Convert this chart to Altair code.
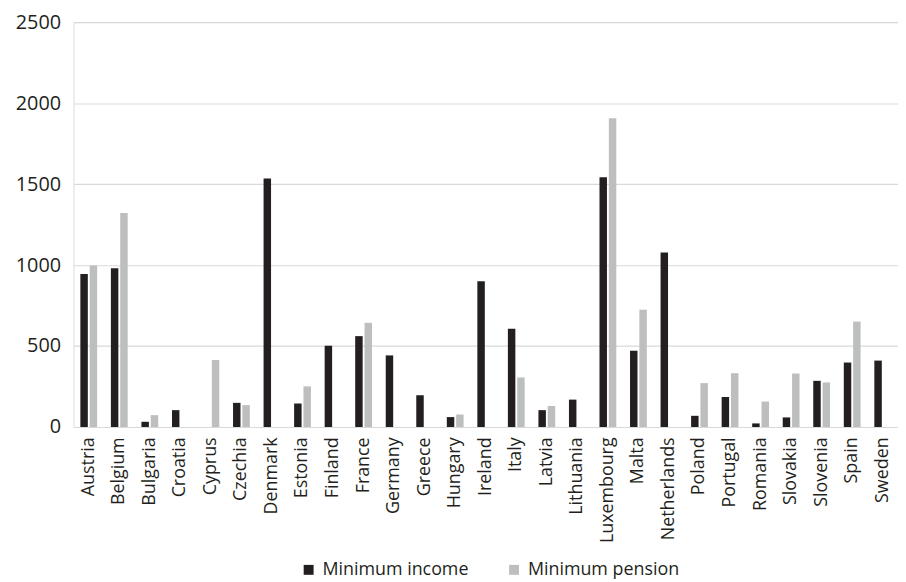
import altair as alt
import pandas as pd

countries = ["Austria", "Belgium", "Bulgaria", "Croatia", "Cyprus", "Czechia", "Denmark",
             "Estonia", "Finland", "France", "Germany", "Greece", "Hungary", "Ireland",
             "Italy", "Latvia", "Lithuania", "Luxembourg", "Malta", "Netherlands", "Poland",
             "Portugal", "Romania", "Slovakia", "Slovenia", "Spain", "Sweden"]
min_income = [944, 981, 32, 104, None, 149, 1534, 145, 502, 561, 442, 196, 61, 900,
              606, 104, 169, 1542, 471, 1077, 69, 185, 22, 59, 285, 398, 410]
min_pension = [997, 1322, 73, None, 414, 135, None, 251, None, 643, None, None, 77, None,
               306, 130, None, 1907, 724, None, 271, 332, 157, 330, 275, 651, None]
series = ["Minimum income", "Minimum pension"]
colors = ["#231f20", "#bcbec0"]
y_ticks = [0, 500, 1000, 1500, 2000, 2500]

rows = []
for c, a, b in zip(countries, min_income, min_pension):
    if a is not None:
        rows.append({"country": c, "series": series[0], "value": a})
    if b is not None:
        rows.append({"country": c, "series": series[1], "value": b})
df = pd.DataFrame(rows)

font = "Open Sans"
text_color = "#231f20"

chart = alt.Chart(df).mark_bar().encode(
    x=alt.X("country:N", sort=countries, title=None,
            scale=alt.Scale(paddingInner=0.45, paddingOuter=0.225),
            axis=alt.Axis(labelAngle=-90, labelAlign="right", labelBaseline="middle",
                          labelPadding=10, ticks=False, domain=False, grid=False,
                          labelFontSize=18, labelColor=text_color, labelFont=font)),
    xOffset=alt.XOffset("series:N", sort=series,
                        scale=alt.Scale(paddingInner=0.2, paddingOuter=0)),
    y=alt.Y("value:Q", title=None,
            scale=alt.Scale(domain=[0, 2500], nice=False),
            axis=alt.Axis(values=y_ticks, format=".0f", ticks=False, domain=False,
                          gridColor="#d9d9d9", gridWidth=1.2, labelPadding=13,
                          labelFontSize=20, labelColor=text_color, labelFont=font)),
    color=alt.Color("series:N", sort=series,
                    scale=alt.Scale(domain=series, range=colors),
                    legend=alt.Legend(title=None, orient="none", legendX=228, legendY=543,
                                      direction="horizontal",
                                      symbolType="square", symbolSize=100,
                                      symbolStrokeWidth=0, labelFontSize=18,
                                      labelColor=text_color, labelFont=font,
                                      columnPadding=36, labelOffset=5)),
).properties(
    width=831, height=408,
    padding={"left": 7, "top": 2, "right": 0, "bottom": 5},
).configure_view(stroke=None).configure(font=font)

chart.save("out.html", embed_options={"renderer": "svg", "actions": False})
